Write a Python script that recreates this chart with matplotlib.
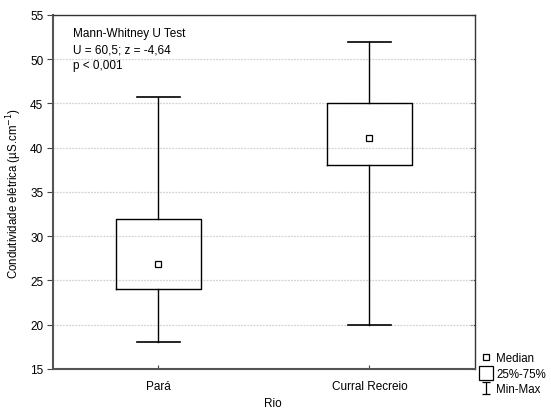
import numpy as np
import matplotlib
matplotlib.use("Agg")
import matplotlib.pyplot as plt
from matplotlib.lines import Line2D
from matplotlib.path import Path

plt.rcParams['font.family'] = ['Liberation Sans', 'DejaVu Sans']

rios = ['Pará', 'Curral Recreio']
medianas = [26.9, 41.1]
q25 = [24.0, 38.0]
q75 = [32.0, 45.0]
minimos = [18.0, 20.0]
maximos = [45.7, 52.0]

fig = plt.figure(figsize=(5.51, 4.10), dpi=100)
ax = fig.add_axes([0.0962, 0.0976, 0.7658, 0.8634])

pos = np.arange(1, len(rios) + 1)
stats = []
for i in range(len(rios)):
    stats.append(dict(med=medianas[i], q1=q25[i], q3=q75[i],
                      whislo=minimos[i], whishi=maximos[i], fliers=[]))

ax.bxp(stats, positions=pos, widths=0.4, showfliers=False,
       boxprops=dict(color='black', linewidth=1.0),
       whiskerprops=dict(color='black', linewidth=1.0),
       capprops=dict(color='black', linewidth=1.2),
       medianprops=dict(linewidth=0), capwidths=0.2, zorder=3)
ax.plot(pos, medianas, 's', ms=4, mfc='white', mec='black', mew=0.9, zorder=4)

ax.set_xlim(0.5, 2.5)
ax.set_ylim(15, 55)
ax.set_yticks(np.arange(15, 56, 5))
ax.set_xticks(pos)
ax.set_xticklabels(rios)
ax.yaxis.grid(True, linestyle=(0, (1.5, 1)), color='#d2d2d2', linewidth=0.9)
ax.set_axisbelow(True)

for s in ['left', 'bottom']:
    ax.spines[s].set_color('#555555')
    ax.spines[s].set_linewidth(1.5)
for s in ['top', 'right']:
    ax.spines[s].set_color('#333333')
    ax.spines[s].set_linewidth(1.0)

ax.tick_params(axis='y', direction='out', length=4, labelsize=8.5, pad=3, color='#444444')
ax.tick_params(axis='x', direction='in', length=3, labelsize=8.5, pad=8, color='#444444')

# ticks curtos para dentro no lado direito
sec = ax.secondary_yaxis('right')
sec.set_yticks(np.arange(15, 56, 5))
sec.tick_params(direction='in', length=3, labelright=False, color='#333333')
sec.spines['right'].set_visible(False)

ax.set_ylabel('Condutividade elétrica (µS.cm$^{-1}$)', fontsize=8.3, labelpad=4)
fig.text(0.495, 0.0, 'Rio', fontsize=8.5, ha='center', va='bottom')

ax.text(0.047, 0.965, 'Mann-Whitney U Test\nU = 60,5; z = -4,64\np < 0,001',
        transform=ax.transAxes, fontsize=8.5, va='top', ha='left', linespacing=1.45)

# legenda
ibeam = Path([(-0.8, 1), (0.8, 1), (0, 1), (0, -1), (-0.8, -1), (0.8, -1)],
             [Path.MOVETO, Path.LINETO, Path.MOVETO, Path.LINETO, Path.MOVETO, Path.LINETO])
handles = [
    Line2D([], [], marker='s', ms=4, mfc='white', mec='black', mew=0.9, ls='none'),
    Line2D([], [], marker='s', ms=9.5, mfc='white', mec='black', mew=0.9, ls='none'),
    Line2D([], [], marker=ibeam, ms=8, mfc='none', mec='black', mew=0.9, ls='none'),
]
leg = fig.legend(handles, ['Median', '25%-75%', 'Min-Max'],
                 loc='lower left', bbox_to_anchor=(0.866, 0.022),
                 frameon=False, fontsize=8.3, handlelength=0.8,
                 handletextpad=0.45, labelspacing=0.3, borderaxespad=0)

fig.savefig('out.png', dpi=100)
